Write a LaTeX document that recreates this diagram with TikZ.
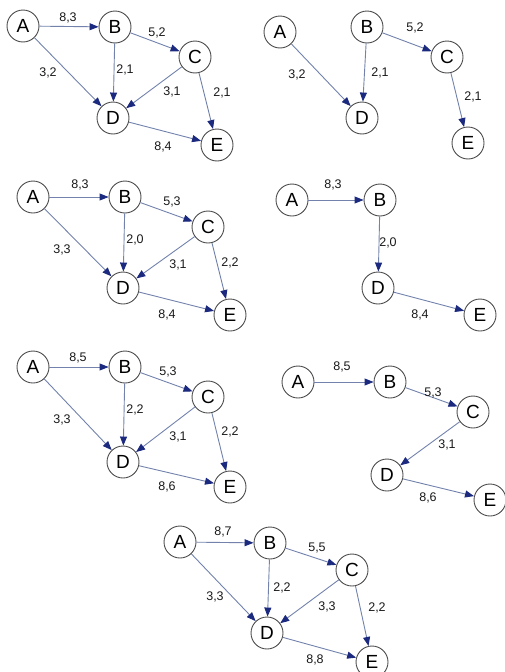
\documentclass[tikz,border=0pt]{standalone}
\usepackage{fontspec}
\setmainfont{Liberation Sans}
\usetikzlibrary{arrows.meta}

\definecolor{edgeblue}{HTML}{7282AC}
\definecolor{tipnavy}{HTML}{1B2A7E}

\tikzset{
  vert/.style={circle,draw=black!70,line width=0.9pt,fill=white,minimum size=32pt,inner sep=0pt,font=\fontsize{19}{19}\selectfont},
  arc/.style={edgeblue,line width=0.9pt,-{Triangle[length=9pt,width=7pt,color=tipnavy]}},
  lab/.style={inner sep=0pt,text=black!90,font=\fontsize{12.5}{12.5}\selectfont}
}

\begin{document}
\begin{tikzpicture}[x=1pt,y=-1pt]
  \useasboundingbox (0,0) rectangle (505,672);
  \clip (0,0) rectangle (505,672);

  % full network, first round
  \foreach \n/\x/\y in {A/23/26,B/115/27,C/195/57,D/113/118,E/217/145}
    \node[vert] (\n1) at (\x,\y) {\n};
  \foreach \s/\t/\w/\x/\y in {A/B/{8,3}/68/18,B/C/{5,2}/157/33,A/D/{3,2}/48/73,B/D/{2,1}/125/70,
                              C/D/{3,1}/172/92,C/E/{2,1}/222/93,D/E/{8,4}/163/147}
  {
    \draw[arc] (\s1) -- (\t1);
    \node[lab] (w\s\t1) at (\x,\y) {\w};
  }

  % first tree
  \foreach \n/\x/\y in {A/280/32,B/367/27,C/447/57,D/362/118,E/468/143}
    \node[vert] (\n2) at (\x,\y) {\n};
  \foreach \s/\t/\w/\x/\y in {A/D/{3,2}/297/75,B/C/{5,2}/415/28,B/D/{2,1}/380/73,C/E/{2,1}/473/97}
  {
    \draw[arc] (\s2) -- (\t2);
    \node[lab] (w\s\t2) at (\x,\y) {\w};
  }

  % full network, second round
  \foreach \n/\x/\y in {A/33/197,B/125/197,C/208/227,D/123/288,E/230/315}
    \node[vert] (\n3) at (\x,\y) {\n};
  \foreach \s/\t/\w/\x/\y in {A/B/{8,3}/80/185,B/C/{5,3}/172/202,A/D/{3,3}/62/250,B/D/{2,0}/135/240,
                              C/D/{3,1}/178/265,C/E/{2,2}/230/263,D/E/{8,4}/167/315}
  {
    \draw[arc] (\s3) -- (\t3);
    \node[lab] (w\s\t3) at (\x,\y) {\w};
  }

  % second tree
  \foreach \n/\x/\y in {A/292/200,B/380/200,D/378/288,E/480/315}
    \node[vert] (\n4) at (\x,\y) {\n};
  \foreach \s/\t/\w/\x/\y in {A/B/{8,3}/333/185,B/D/{2,0}/388/243,D/E/{8,4}/420/315}
  {
    \draw[arc] (\s4) -- (\t4);
    \node[lab] (w\s\t4) at (\x,\y) {\w};
  }

  % full network, third round
  \foreach \n/\x/\y in {A/33/367,B/125/367,C/208/397,D/123/462,E/230/487}
    \node[vert] (\n5) at (\x,\y) {\n};
  \foreach \s/\t/\w/\x/\y in {A/B/{8,5}/78/358,B/C/{5,3}/168/372,A/D/{3,3}/62/420,B/D/{2,2}/135/410,
                              C/D/{3,1}/178/437,C/E/{2,2}/230/432,D/E/{8,6}/167/487}
  {
    \draw[arc] (\s5) -- (\t5);
    \node[lab] (w\s\t5) at (\x,\y) {\w};
  }

  % third tree
  \foreach \n/\x/\y in {A/298/382,B/390/382,C/473/412,D/387/475,E/490/500}
    \node[vert] (\n6) at (\x,\y) {\n};
  \foreach \s/\t/\w/\x/\y in {A/B/{8,5}/342/367,B/C/{5,3}/433/393,C/D/{3,1}/447/445,D/E/{8,6}/428/498}
  {
    \draw[arc] (\s6) -- (\t6);
    \node[lab] (w\s\t6) at (\x,\y) {\w};
  }

  % full network, last round
  \foreach \n/\x/\y in {A/180/542,B/270/543,C/352/570,D/267/633,E/372/662}
    \node[vert] (\n7) at (\x,\y) {\n};
  \foreach \s/\t/\w/\x/\y in {A/B/{8,7}/223/532,B/C/{5,5}/317/548,A/D/{3,3}/215/597,B/D/{2,2}/282/588,
                              C/D/{3,3}/327/607,C/E/{2,2}/377/608,D/E/{8,8}/315/660}
  {
    \draw[arc] (\s7) -- (\t7);
    \node[lab] (w\s\t7) at (\x,\y) {\w};
  }
\end{tikzpicture}
\end{document}
